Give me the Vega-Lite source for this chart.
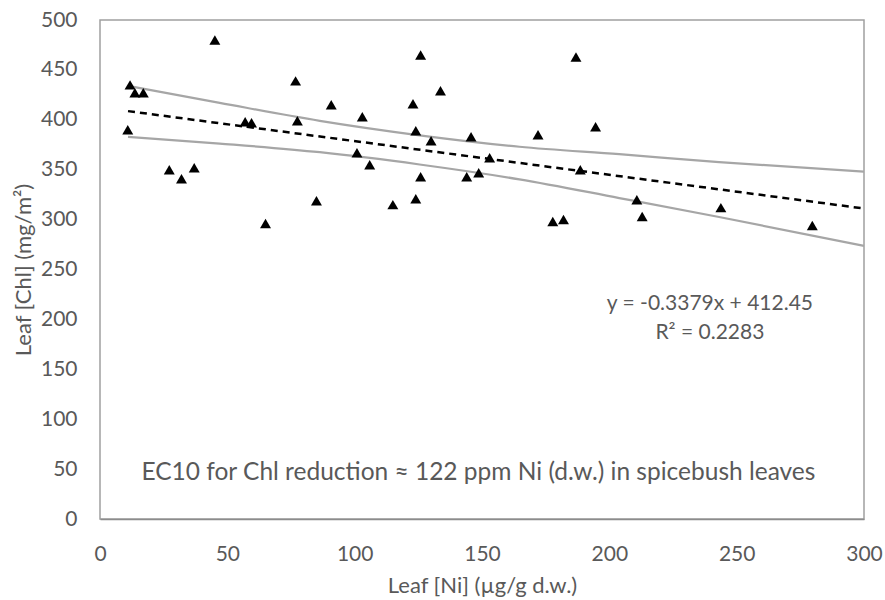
{
  "$schema": "https://vega.github.io/schema/vega-lite/v6.json",
  "autosize": "none",
  "width": 764,
  "height": 499,
  "padding": {"left": 100, "top": 20, "right": 21, "bottom": 81},
  "background": "white",
  "config": {
    "font": "Lato",
    "view": {"stroke": "#a0a0a0", "strokeWidth": 1.5},
    "axis": {
      "labelFont": "Lato", "labelFontSize": 21, "labelColor": "#595959",
      "titleFont": "Lato", "titleFontSize": 22, "titleColor": "#595959", "titleFontWeight": "normal",
      "grid": false, "ticks": false
    }
  },
  "datasets": {
    "points": [
      {"ni": 10.9, "chl": 390}, {"ni": 11.8, "chl": 435}, {"ni": 13.7, "chl": 427}, {"ni": 17.0, "chl": 427},
      {"ni": 27.2, "chl": 350}, {"ni": 32.0, "chl": 341}, {"ni": 37.0, "chl": 352}, {"ni": 45.1, "chl": 480},
      {"ni": 57.0, "chl": 398}, {"ni": 59.5, "chl": 397}, {"ni": 65.0, "chl": 296}, {"ni": 76.8, "chl": 439},
      {"ni": 77.5, "chl": 399}, {"ni": 85.0, "chl": 319}, {"ni": 90.8, "chl": 415}, {"ni": 100.9, "chl": 367},
      {"ni": 103.0, "chl": 403}, {"ni": 105.9, "chl": 355}, {"ni": 115.0, "chl": 315}, {"ni": 122.9, "chl": 416},
      {"ni": 124.0, "chl": 389}, {"ni": 124.0, "chl": 321}, {"ni": 125.9, "chl": 343}, {"ni": 125.9, "chl": 465},
      {"ni": 130.0, "chl": 379}, {"ni": 133.7, "chl": 429}, {"ni": 144.0, "chl": 343}, {"ni": 145.7, "chl": 383},
      {"ni": 148.7, "chl": 347}, {"ni": 153.0, "chl": 362}, {"ni": 172.0, "chl": 385}, {"ni": 177.8, "chl": 298},
      {"ni": 182.0, "chl": 300}, {"ni": 186.9, "chl": 463}, {"ni": 188.6, "chl": 350}, {"ni": 194.6, "chl": 393},
      {"ni": 210.8, "chl": 320}, {"ni": 212.9, "chl": 303}, {"ni": 243.8, "chl": 312}, {"ni": 279.7, "chl": 294}
    ],
    "bands": [
      {"ni": 11, "chl": 434, "band": "upper"}, {"ni": 47, "chl": 417, "band": "upper"},
      {"ni": 86.3, "chl": 399, "band": "upper"}, {"ni": 125.5, "chl": 384.5, "band": "upper"},
      {"ni": 164.7, "chl": 373, "band": "upper"}, {"ni": 203.9, "chl": 365.5, "band": "upper"},
      {"ni": 243.1, "chl": 357.6, "band": "upper"}, {"ni": 300, "chl": 348, "band": "upper"},
      {"ni": 11, "chl": 383, "band": "lower"}, {"ni": 47, "chl": 376.2, "band": "lower"},
      {"ni": 86.3, "chl": 367.5, "band": "lower"}, {"ni": 125.5, "chl": 355.2, "band": "lower"},
      {"ni": 164.7, "chl": 340.3, "band": "lower"}, {"ni": 203.9, "chl": 321.6, "band": "lower"},
      {"ni": 243.1, "chl": 302.6, "band": "lower"}, {"ni": 300, "chl": 273.7, "band": "lower"}
    ],
    "fit": [
      {"ni": 11, "chl": 408.7}, {"ni": 300, "chl": 311.1}
    ],
    "labels": [
      {"ni": 239.5, "chl": 215, "text": "y = -0.3379x + 412.45", "size": 21},
      {"ni": 239.5, "chl": 186, "text": "R² = 0.2283", "size": 21},
      {"ni": 148.6, "chl": 46, "text": "EC10 for Chl reduction ≈ 122 ppm Ni (d.w.) in spicebush leaves", "size": 24.5}
    ]
  },
  "encoding": {
    "x": {"field": "ni", "type": "quantitative",
      "scale": {"domain": [0, 300], "nice": false},
      "axis": {"title": "Leaf [Ni] (µg/g d.w.)", "values": [0, 50, 100, 150, 200, 250, 300],
        "labelPadding": 24, "titlePadding": 11, "domainColor": "#8c8c8c", "domainWidth": 1.5, "labelFlush": false}},
    "y": {"field": "chl", "type": "quantitative",
      "scale": {"domain": [0, 500], "nice": false},
      "axis": {"title": "Leaf [Chl] (mg/m²)", "values": [0, 50, 100, 150, 200, 250, 300, 350, 400, 450, 500],
        "labelPadding": 23, "titlePadding": 5, "domain": false}}
  },
  "layer": [
    {
      "data": {"name": "bands"},
      "mark": {"type": "line", "color": "#a6a6a6", "strokeWidth": 2.25, "interpolate": "monotone"},
      "encoding": {"detail": {"field": "band", "type": "nominal"}}
    },
    {
      "data": {"name": "fit"},
      "mark": {"type": "line", "color": "#000000", "strokeWidth": 2.5, "strokeDash": [7, 5]},
      "encoding": {}
    },
    {
      "data": {"name": "points"},
      "mark": {"type": "point", "shape": "triangle-up", "filled": true, "color": "#000000", "opacity": 1, "size": 120},
      "encoding": {}
    },
    {
      "data": {"name": "labels"},
      "mark": {"type": "text", "font": "Lato", "color": "#595959", "align": "center", "baseline": "middle"},
      "encoding": {
        "text": {"field": "text", "type": "nominal"},
        "size": {"field": "size", "type": "quantitative", "scale": null}
      }
    }
  ]
}
